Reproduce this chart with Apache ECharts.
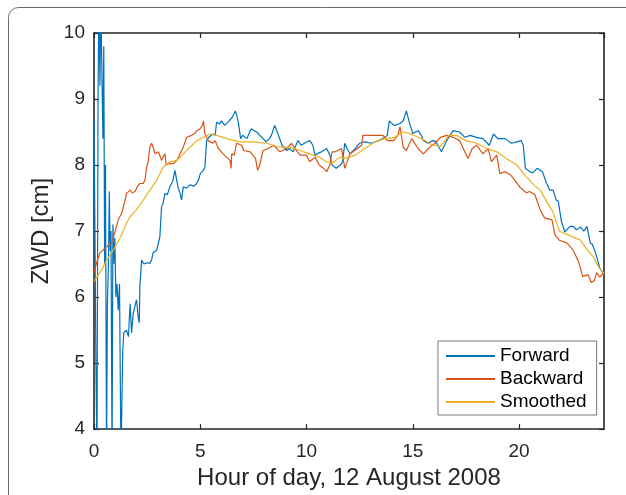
<!DOCTYPE html>
<html>
<head>
<meta charset="utf-8">
<script src="https://cdn.jsdelivr.net/npm/echarts@6/dist/echarts.min.js"></script>
<style>
html,body{margin:0;padding:0;background:#fff;}
#chart{width:626px;height:495px;}
</style>
</head>
<body>
<div id="chart"></div>
<script>
var seriesNames = ['Forward', 'Backward', 'Smoothed'];
var xTicks = [0, 5, 10, 15, 20];
var yTicks = [4, 5, 6, 7, 8, 9, 10];

var fwdHours = [0.00,0.04,0.09,0.14,0.19,0.23,0.28,0.32,0.37,0.42,0.46,0.50,0.54,0.59,0.63,0.68,0.72,0.76,0.80,0.85,0.89,0.93,0.98,1.03,1.08,1.14,1.20,1.27,1.35,1.40,1.53,1.62,1.70,1.77,1.85,2.00,2.08,2.13,2.16,2.24,2.35,2.48,2.63,2.71,2.78,2.95,3.10,3.18,3.25,3.34,3.45,3.57,3.70,3.81,3.90,3.95,4.05,4.12,4.20,4.35,4.52,4.70,4.83,4.95,5.00,5.15,5.22,5.30,5.40,5.60,5.70,5.77,5.90,6.00,6.15,6.30,6.50,6.65,6.72,6.80,6.90,7.00,7.20,7.30,7.40,7.55,7.65,7.90,8.10,8.25,8.35,8.50,8.65,8.85,9.07,9.20,9.37,9.60,9.75,9.90,10.15,10.30,10.40,10.55,10.70,10.95,11.10,11.20,11.40,11.60,11.70,11.80,11.90,12.05,12.30,12.50,12.75,13.05,13.40,13.70,13.80,13.90,14.05,14.15,14.40,14.55,14.70,14.85,15.00,15.25,15.40,15.50,15.70,15.95,16.10,16.35,16.60,16.75,16.90,17.20,17.45,17.70,18.00,18.30,18.60,18.80,19.00,19.35,19.65,19.90,20.10,20.20,20.30,20.50,20.65,20.85,21.00,21.10,21.30,21.45,21.60,21.75,21.85,22.00,22.15,22.25,22.40,22.55,22.70,22.90,23.05,23.20,23.35,23.45,23.60,23.70,23.80,23.90,24.00];
var fwdValues = [8.70,7.20,5.00,3.50,9.00,10.50,9.20,10.50,10.50,8.40,9.80,6.50,8.00,3.50,5.90,6.50,7.60,6.70,7.00,3.50,7.10,6.50,6.90,6.00,6.20,5.80,6.20,3.50,5.16,5.46,5.50,5.40,5.90,5.46,5.76,5.96,5.70,5.61,6.16,6.56,6.50,6.52,6.51,6.56,6.67,6.71,6.91,7.37,7.42,7.57,7.55,7.67,7.75,7.92,7.95,7.67,7.57,7.47,7.67,7.65,7.70,7.68,7.72,7.80,7.87,7.92,7.97,8.37,8.42,8.47,8.45,8.65,8.62,8.67,8.60,8.65,8.72,8.82,8.75,8.63,8.40,8.45,8.40,8.48,8.55,8.52,8.50,8.42,8.35,8.40,8.45,8.60,8.48,8.30,8.22,8.25,8.20,8.37,8.30,8.33,8.37,8.30,8.15,8.18,8.20,8.25,8.15,8.00,7.95,8.00,8.05,8.33,8.25,8.17,8.25,8.33,8.35,8.33,8.37,8.42,8.45,8.67,8.62,8.60,8.63,8.67,8.82,8.63,8.48,8.52,8.45,8.37,8.33,8.37,8.35,8.20,8.37,8.45,8.52,8.50,8.42,8.45,8.42,8.40,8.30,8.47,8.40,8.40,8.33,8.35,8.37,8.30,7.95,7.90,7.88,7.95,7.92,7.90,7.72,7.62,7.62,7.47,7.45,7.14,6.99,7.02,7.07,7.07,7.02,7.06,7.00,7.07,6.82,6.80,6.67,6.56,6.44,6.39,6.35];

var bwdHours = [0.00,0.15,0.28,0.45,0.60,0.70,0.83,1.00,1.14,1.30,1.45,1.53,1.70,1.80,1.93,2.05,2.16,2.32,2.40,2.48,2.55,2.63,2.71,2.80,2.87,3.03,3.18,3.25,3.34,3.40,3.50,3.73,3.90,4.05,4.20,4.36,4.59,4.75,4.83,5.00,5.10,5.15,5.22,5.37,5.60,5.70,5.85,6.08,6.30,6.40,6.45,6.48,6.60,6.71,6.95,7.05,7.35,7.60,7.70,7.80,7.95,8.20,8.45,8.75,9.07,9.30,9.45,9.70,10.00,10.15,10.40,10.60,10.80,10.95,11.10,11.20,11.35,11.65,11.80,12.05,12.40,12.60,12.65,13.20,13.60,13.80,14.10,14.30,14.40,14.55,14.70,14.95,15.25,15.50,15.80,16.05,16.30,16.60,16.90,17.20,17.45,17.60,17.80,18.00,18.30,18.55,18.70,18.95,19.10,19.35,19.60,19.80,20.05,20.35,20.50,20.75,21.00,21.20,21.55,21.70,21.90,22.25,22.55,22.80,23.00,23.25,23.40,23.55,23.65,23.80,23.90,24.00];
var bwdValues = [6.37,6.55,6.67,6.72,6.76,6.80,6.82,7.00,7.17,7.27,7.45,7.57,7.62,7.58,7.60,7.68,7.72,7.72,7.78,7.97,8.05,8.27,8.33,8.25,8.17,8.20,8.07,8.12,8.17,8.00,8.02,8.02,8.07,8.17,8.27,8.42,8.45,8.48,8.52,8.55,8.60,8.67,8.47,8.37,8.33,8.37,8.25,8.17,8.10,8.07,7.95,8.17,8.15,8.33,8.30,8.22,8.20,8.10,7.92,8.00,8.22,8.25,8.30,8.20,8.25,8.33,8.25,8.15,8.15,8.05,8.12,8.00,7.95,7.90,8.00,8.20,8.20,8.25,7.95,8.17,8.25,8.30,8.45,8.45,8.45,8.37,8.37,8.45,8.58,8.27,8.22,8.40,8.25,8.17,8.27,8.33,8.42,8.45,8.42,8.37,8.20,8.10,8.25,8.30,8.17,8.25,8.05,8.15,7.87,7.90,7.85,7.77,7.66,7.58,7.60,7.55,7.32,7.20,7.17,6.94,6.86,6.82,6.71,6.54,6.31,6.34,6.22,6.25,6.37,6.30,6.34,6.38];

var smHours = [0.00,0.28,0.60,0.90,1.22,1.53,1.70,2.00,2.32,2.63,2.95,3.26,3.57,3.90,4.20,4.52,4.83,5.15,5.46,5.77,6.24,6.87,7.50,8.10,8.75,9.20,9.70,10.15,10.60,10.95,11.20,11.60,11.80,12.30,12.75,13.20,13.70,14.15,14.50,14.85,15.25,15.60,15.80,16.05,16.30,16.70,17.05,17.50,18.00,18.50,18.95,19.40,19.90,20.35,20.70,21.00,21.30,21.60,21.90,22.25,22.60,22.90,23.20,23.50,23.70,23.90,24.00];
var smValues = [6.24,6.37,6.56,6.71,6.89,7.12,7.22,7.32,7.47,7.62,7.77,7.97,8.05,8.07,8.17,8.27,8.37,8.42,8.47,8.45,8.40,8.35,8.35,8.33,8.27,8.27,8.22,8.17,8.12,8.05,8.03,8.12,8.10,8.15,8.25,8.35,8.40,8.42,8.50,8.48,8.42,8.37,8.32,8.30,8.28,8.45,8.45,8.37,8.33,8.25,8.20,8.10,8.00,7.82,7.70,7.62,7.45,7.29,7.00,6.95,6.90,6.86,6.72,6.61,6.48,6.39,6.35];

function pairs(xs, ys) { return xs.map(function (x, i) { return [x, ys[i]]; }); }

var colors = ['#0072BD', '#D95319', '#EDB120'];
var textColor = '#262626';
var font = 'Liberation Sans, Arial, Helvetica, sans-serif';

var chart = echarts.init(document.getElementById('chart'), null, {renderer: 'canvas'});

function xAxisCfg(pos, showLabels) {
  return {
    type: 'value', position: pos, min: 0, max: 24, interval: 5,
    name: showLabels ? 'Hour of day, 12 August 2008' : '',
    nameLocation: 'middle', nameGap: 36,
    nameTextStyle: {fontSize: 24, color: textColor, fontFamily: font},
    axisLine: {show: true, onZero: false, lineStyle: {color: textColor, width: 1.6}},
    axisTick: {show: true, inside: true, length: 5, lineStyle: {color: textColor, width: 1.2}},
    axisLabel: {show: showLabels, fontSize: 19, color: textColor, fontFamily: font, margin: 13,
      showMaxLabel: false,
      formatter: function (v) { return xTicks.indexOf(v) >= 0 ? String(v) : ''; }},
    splitLine: {show: false}
  };
}
function yAxisCfg(pos, showLabels) {
  return {
    type: 'value', position: pos, min: 4, max: 10, interval: 1,
    name: showLabels ? 'ZWD [cm]' : '',
    nameLocation: 'middle', nameGap: 36, nameRotate: 90,
    nameTextStyle: {fontSize: 24, color: textColor, fontFamily: font},
    axisLine: {show: true, onZero: false, lineStyle: {color: textColor, width: 1.6}},
    axisTick: {show: true, inside: true, length: 5, lineStyle: {color: textColor, width: 1.2}},
    axisLabel: {show: showLabels, fontSize: 19, color: textColor, fontFamily: font, margin: 9,
      formatter: function (v) { return yTicks.indexOf(v) >= 0 ? String(v) : ''; }},
    splitLine: {show: false}
  };
}

var datasets = [pairs(fwdHours, fwdValues), pairs(bwdHours, bwdValues), pairs(smHours, smValues)];

chart.setOption({
  animation: false,
  backgroundColor: '#ffffff',
  textStyle: {fontFamily: font},
  grid: {left: 94, top: 33, right: 22, bottom: 65, containLabel: false},
  graphic: [{
    type: 'rect', z: -10,
    shape: {x: 8.5, y: 7.5, width: 640, height: 520, r: 10},
    style: {fill: 'none', stroke: '#6b6b6b', lineWidth: 1}
  }],
  legend: {
    orient: 'vertical', left: 438, top: 341,
    padding: [5, 10, 3, 8], itemGap: 3,
    itemWidth: 49, itemHeight: 2,
    icon: 'rect',
    backgroundColor: '#ffffff', borderColor: '#7a7a7a', borderWidth: 1, borderRadius: 0,
    textStyle: {fontSize: 19, color: '#000', fontFamily: font, lineHeight: 20},
    data: seriesNames
  },
  xAxis: [xAxisCfg('bottom', true), xAxisCfg('top', false)],
  yAxis: [yAxisCfg('left', true), yAxisCfg('right', false)],
  series: seriesNames.map(function (n, i) {
    return {
      name: n, type: 'line', data: datasets[i],
      xAxisIndex: 0, yAxisIndex: 0,
      showSymbol: false, symbol: 'none', clip: true,
      color: colors[i],
      lineStyle: {color: colors[i], width: 1.2},
      z: 2 + i
    };
  })
});
</script>
</body>
</html>
